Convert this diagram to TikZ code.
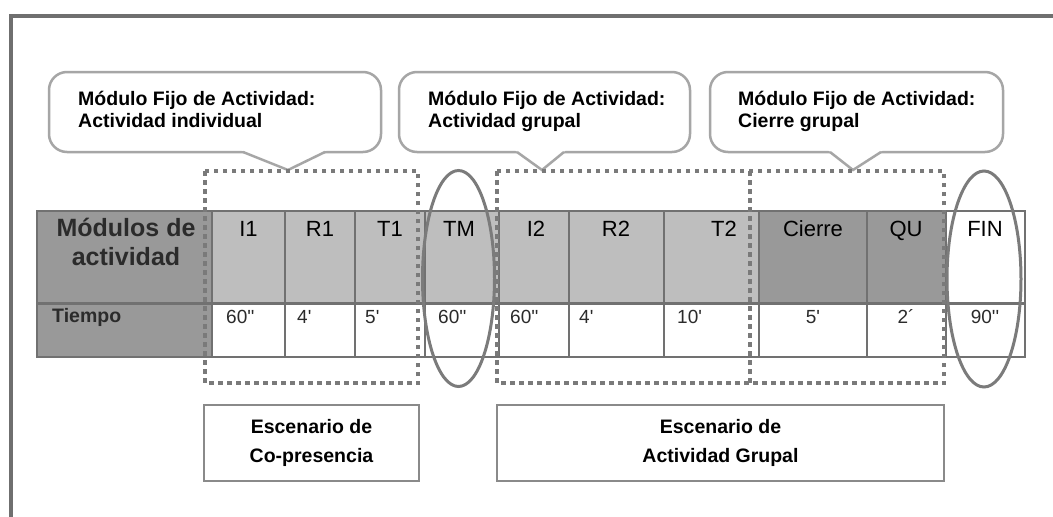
\documentclass[tikz,border=0pt]{standalone}
\usepackage{fontspec}
\setmainfont{Liberation Sans}
\definecolor{framec}{HTML}{6F6F6F}
\definecolor{tblc}{HTML}{717171}
\definecolor{darkc}{HTML}{999999}
\definecolor{lightc}{HTML}{BEBEBE}
\definecolor{bubc}{HTML}{A6A6A6}
\definecolor{dotc}{HTML}{7A7A7A}
\definecolor{ringc}{HTML}{7B7B7B}
\definecolor{scenec}{HTML}{8A8A8A}
\definecolor{txtc}{HTML}{2B2B2B}
\begin{document}
\begin{tikzpicture}[x=1pt,y=-1pt,
  tbl/.style={draw=tblc, line width=2.3pt},
  hdr/.style={anchor=base, font=\fontsize{22}{24}\selectfont, text=black, inner sep=0pt},
  dat/.style={anchor=base west, font=\fontsize{19}{21}\selectfont, text=txtc, inner sep=0pt},
  datc/.style={dat, anchor=base},
  lbl/.style={anchor=base, font=\bfseries\fontsize{25}{28}\selectfont, text=txtc, inner sep=0pt},
  btxt/.style={anchor=base west, font=\bfseries\fontsize{19.5}{22}\selectfont, text=black, inner sep=0pt},
  stxt/.style={anchor=base, font=\bfseries\fontsize{19.5}{22}\selectfont, text=black, inner sep=0pt},
  bubble/.style={draw=bubc, line width=2.5pt, fill=white, rounded corners=18pt},
  tip/.style={draw=bubc, line width=2.5pt, line join=miter},
  dotbox/.style={draw=dotc, line width=4pt, dash pattern=on 4.5pt off 4.5pt},
  ring/.style={draw=ringc, line width=3pt},
  scene/.style={draw=scenec, line width=1.5pt, fill=white}
]
\fill[white] (0,0) rectangle (1053,517);
\useasboundingbox (0,0) rectangle (1053,517);
% frame
\draw[framec, line width=4pt] (10.5,517) -- (10.5,15.5) -- (1053,15.5);

% bubbles
\draw[bubble] (49,72) rectangle (381,152);
\fill[white] (241,150) -- (288,170) -- (327,150) -- cycle;
\draw[tip] (243,152) -- (288,170) -- (325,152);
\draw[bubble] (399,72) rectangle (690,152);
\fill[white] (515,150) -- (542,170) -- (566,150) -- cycle;
\draw[tip] (517,152) -- (542,170) -- (564,152);
\draw[bubble] (710,72) rectangle (1003,152);
\fill[white] (828,150) -- (853,170) -- (883,150) -- cycle;
\draw[tip] (830,152) -- (853,170) -- (881,152);

\node[btxt] (b1a) at (78,105) {Módulo Fijo de Actividad:};
\node[btxt] (b1b) at (78,127) {Actividad individual};
\node[btxt] (b2a) at (428,105) {Módulo Fijo de Actividad:};
\node[btxt] (b2b) at (428,127) {Actividad grupal};
\node[btxt] (b3a) at (738,105) {Módulo Fijo de Actividad:};
\node[btxt] (b3b) at (738,127) {Cierre grupal};

% table
\filldraw[tbl, fill=darkc] (37,211) rectangle (212,303.5);
\filldraw[tbl, fill=darkc] (37,303.5) rectangle (212,357);
\foreach \a/\b/\c in {212/285/lightc, 285/355/lightc, 355/425/lightc, 425/499/lightc,
  499/569/lightc, 569/664/lightc, 664/759/lightc, 759/867/darkc, 867/946/darkc, 946/1025/white}{
  \filldraw[tbl, fill=\c] (\a,211) rectangle (\b,303.5);
  \filldraw[tbl, fill=white] (\a,303.5) rectangle (\b,357);
}
\node[lbl] (mod1) at (126,236) {Módulos de};
\node[lbl] (mod2) at (126,265) {actividad};
\node[anchor=base west, font=\bfseries\fontsize{19.5}{21}\selectfont, text=txtc, inner sep=0pt] (tiempo) at (52,322) {Tiempo};

\node[hdr] (hI1) at (248.5,236) {I1};
\node[hdr] (hR1) at (320,236) {R1};
\node[hdr] (hT1) at (390,236) {T1};
\node[hdr] (hTM) at (459,236) {TM};
\node[hdr] (hI2) at (536,236) {I2};
\node[hdr] (hR2) at (616,236) {R2};
\node[hdr] (hT2) at (724,236) {T2};
\node[hdr] (hCi) at (813,236) {Cierre};
\node[hdr] (hQU) at (906,236) {QU};
\node[hdr] (hFIN) at (985,236) {FIN};

\node[dat] (dI1) at (226,323) {60\textquotesingle\textquotesingle};
\node[dat] (dR1) at (297,323) {4\textquotesingle};
\node[dat] (dT1) at (365,323) {5\textquotesingle};
\node[dat] (dTM) at (438,323) {60\textquotesingle\textquotesingle};
\node[dat] (dI2) at (510,323) {60\textquotesingle\textquotesingle};
\node[dat] (dR2) at (579,323) {4\textquotesingle};
\node[dat] (dT2) at (677,323) {10\textquotesingle};
\node[datc] (dCi) at (813,323) {5\textquotesingle};
\node[datc] (dQU) at (906,323) {2´};
\node[datc] (dFIN) at (985,323) {90\textquotesingle\textquotesingle};

% dotted groups
\draw[dotbox] (205,171) rectangle (418,383);
\draw[dotbox] (497,171) rectangle (944,383);
\draw[dotbox] (750,171) -- (750,383);

% ellipses
\draw[ring] (458.5,278.5) ellipse [x radius=36pt, y radius=108pt];
\draw[ring] (984,279) ellipse [x radius=37pt, y radius=108pt];

% scenario boxes
\draw[scene] (204,405) rectangle (419,481);
\draw[scene] (497,405) rectangle (944,481);
\node[stxt] (s1a) at (311.5,433) {Escenario de};
\node[stxt] (s1b) at (311.5,462) {Co-presencia};
\node[stxt] (s2a) at (720.5,433) {Escenario de};
\node[stxt] (s2b) at (720.5,462) {Actividad Grupal};
\end{tikzpicture}
\end{document}
